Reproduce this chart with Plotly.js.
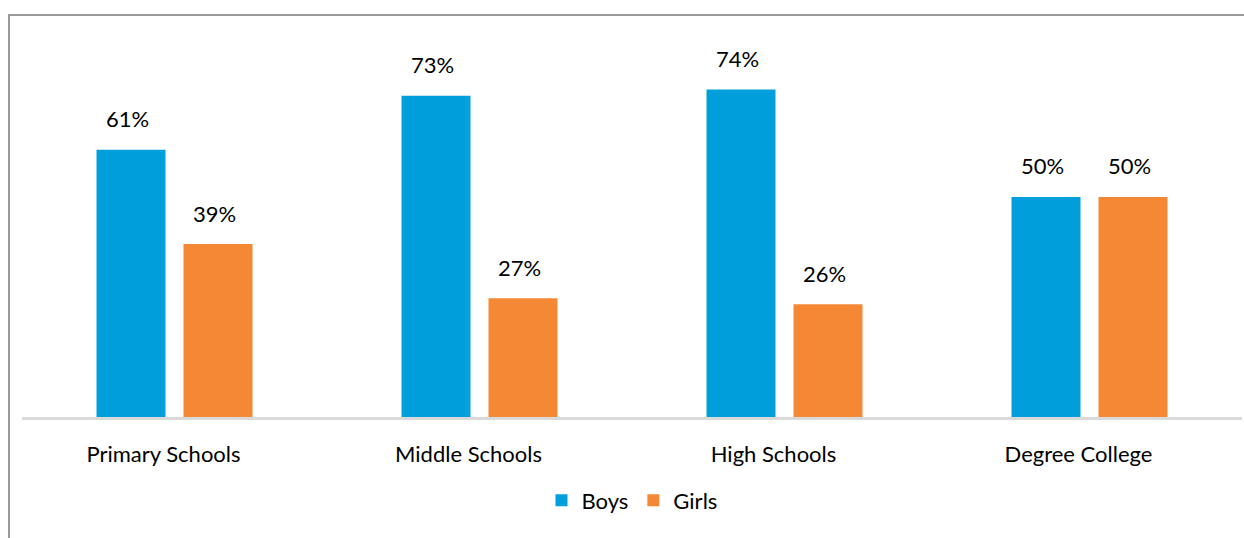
<!DOCTYPE html>
<html>
<head>
<meta charset="utf-8">
<script src="https://cdn.plot.ly/plotly-3.0.1.min.js"></script>
<style>
  html, body { margin: 0; padding: 0; background: #fff; }
  #chart { width: 1244px; height: 538px; position: absolute; left: 0; top: 0; }
  #frame { position: absolute; left: 8px; top: 14px; width: 1236px; height: 524px;
           border-left: 2px solid #9a9a9a; border-top: 2px solid #9a9a9a; pointer-events: none; }
</style>
</head>
<body>
<div id="chart"></div>
<div id="frame"></div>
<script>
const categories = ["Primary Schools", "Middle Schools", "High Schools", "Degree College"];
const boys = [60.7, 73.0, 74.4, 50.0];
const girls = [39.3, 27.0, 25.6, 50.0];
const seriesNames = ["Boys", "Girls"];
const colors = ["#009FDB", "#F58835"];

const labelFont = { family: "Lato, 'Open Sans', sans-serif", size: 22, color: "#000" };

function mk(name, vals, color) {
  return {
    type: "bar", name: name, x: categories, y: vals,
    marker: { color: color },
    hoverinfo: "skip"
  };
}

const data = [mk(seriesNames[0], boys, colors[0]), mk(seriesNames[1], girls, colors[1])];

// value labels placed through the axes, offset to each bar of the group
const annotations = [];
[[boys, -47], [girls, 40]].forEach(([vals, dx]) => {
  vals.forEach((v, i) => {
    annotations.push({
      x: categories[i], y: v, xref: "x", yref: "y",
      text: Math.round(v) + "%", showarrow: false,
      xanchor: "center", yanchor: "middle", xshift: dx, yshift: 31,
      font: labelFont
    });
  });
});

const layout = {
  width: 1244, height: 538,
  margin: { l: 22, r: 2, t: 20, b: 121 },
  paper_bgcolor: "#fff", plot_bgcolor: "#fff",
  barmode: "group", bargap: 0.4295, bargroupgap: 0.207,
  font: labelFont,
  annotations: annotations,
  xaxis: {
    type: "category", showgrid: false, zeroline: false,
    showline: true, linecolor: "#d9d9d9", linewidth: 3,
    ticks: "outside", ticklen: 16, tickcolor: "rgba(0,0,0,0)",
    ticklabelshift: -11,
    tickfont: labelFont
  },
  yaxis: { range: [0, 90.2], visible: false, showgrid: false, zeroline: false, fixedrange: true },
  showlegend: true,
  legend: {
    orientation: "h", x: 0.5, xanchor: "center", y: -0.21, yanchor: "middle",
    font: labelFont, itemwidth: 30, traceorder: "normal"
  }
};

Plotly.newPlot("chart", data, layout, { staticPlot: true, displayModeBar: false });
</script>
</body>
</html>
